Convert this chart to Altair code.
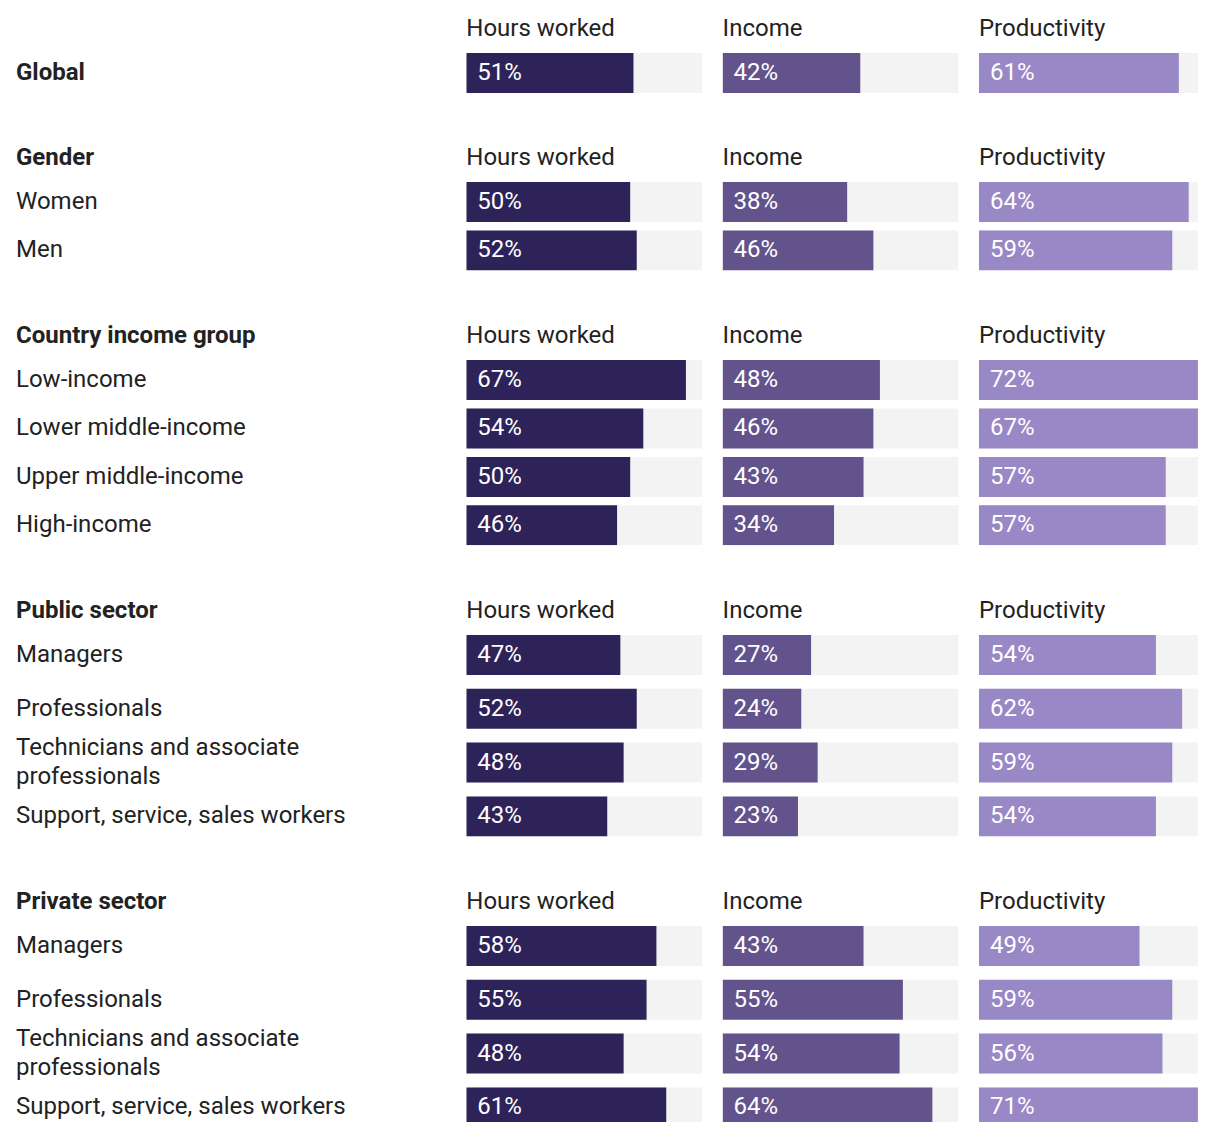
import altair as alt
import pandas as pd

# ---------------- data ----------------
METRICS = ["Hours worked", "Income", "Productivity"]
KEYS = ["hours", "income", "prod"]

global_rows = ["Global"]
global_hours = [51]
global_income = [42]
global_prod = [61]

gender_rows = ["Women", "Men"]
gender_hours = [50, 52]
gender_income = [38, 46]
gender_prod = [64, 59]

country_rows = ["Low-income", "Lower middle-income", "Upper middle-income", "High-income"]
country_hours = [67, 54, 50, 46]
country_income = [48, 46, 43, 34]
country_prod = [72, 67, 57, 57]

occupation_rows = ["Managers", "Professionals",
                   "Technicians and associate\nprofessionals",
                   "Support, service, sales workers"]
public_hours = [47, 52, 48, 43]
public_income = [27, 24, 29, 23]
public_prod = [54, 62, 59, 54]

private_hours = [58, 55, 48, 61]
private_income = [43, 55, 54, 64]
private_prod = [49, 59, 56, 71]

# ---------------- style ----------------
FONT = "Roboto"
TEXT = "#222222"
COLORS = ["#2d2358", "#62538c", "#9888c6"]
TRACK = "#f3f3f3"
XMAX = 72
BAR_W = 236
LAST_W = 219          # last column is cut by the page edge
LABEL_W = 430
COL_GAP = 20.3
BAR_H = 40
LINE_H = 29
SECTION_GAP = 53.0


def title(text, bold=False):
    return alt.TitleParams(text, anchor="start", font=FONT, fontSize=24,
                           fontWeight="bold" if bold else "normal", color=TEXT,
                           baseline="top", offset=11.7, frame="group")


def section(name, rows, hours, income, prod, step, bold_rows=False):
    n = len(rows)
    H = BAR_H + (n - 1) * step
    pad = (step - BAR_H) / step if n > 1 else 0.1
    df = pd.DataFrame({"row": rows, "hours": hours, "income": income, "prod": prod})
    yenc = alt.Y("row:N", sort=rows, axis=None,
                 scale=alt.Scale(type="band", paddingInner=pad, paddingOuter=0))
    lbase = alt.Chart(df).transform_calculate(
        lines="indexof(datum.row, '\\n') >= 0 ? 2 : 1"
    ).encode(y=yenc, x=alt.value(0), text="row:N")
    tstyle = dict(align="left", baseline="middle", font=FONT, fontSize=24,
                  fontWeight="bold" if bold_rows else "normal", color=TEXT,
                  lineBreak="\n", lineHeight=LINE_H)
    one = lbase.transform_filter("datum.lines == 1").mark_text(**tstyle)
    two = lbase.transform_filter("datum.lines == 2").mark_text(dy=-LINE_H / 2, **tstyle)
    label = alt.layer(one, two).properties(width=LABEL_W, height=H)
    if name:
        label = label.properties(title=title(name, bold=True))
    cols = [label]
    for i, (m, k, c) in enumerate(zip(METRICS, KEYS, COLORS)):
        w = LAST_W if i == 2 else BAR_W
        xs = alt.Scale(domain=[0, XMAX], range=[0, BAR_W])
        base = alt.Chart(df).encode(y=yenc)
        track = base.mark_bar(color=TRACK, clip=True).encode(
            x=alt.X(datum=XMAX, type="quantitative", scale=xs, axis=None))
        bar = base.mark_bar(color=c, clip=True).encode(
            x=alt.X(field=k, type="quantitative", scale=xs, axis=None))
        txt = base.transform_calculate(lbl=f"datum.{k} + '%'").mark_text(
            align="left", baseline="middle", dx=11, font=FONT, fontSize=24,
            color="white", clip=True,
        ).encode(x=alt.X(datum=0, type="quantitative", scale=xs, axis=None), text="lbl:N")
        cols.append(alt.layer(track, bar, txt).properties(width=w, height=H, title=title(m)))
    return alt.hconcat(*cols, spacing=COL_GAP, bounds="flush")


sections = [
    section("", global_rows, global_hours, global_income, global_prod, 48.45, bold_rows=True),
    section("Gender", gender_rows, gender_hours, gender_income, gender_prod, 48.4),
    section("Country income group", country_rows, country_hours, country_income, country_prod, 48.45),
    section("Public sector", occupation_rows, public_hours, public_income, public_prod, 53.8),
    section("Private sector", occupation_rows, private_hours, private_income, private_prod, 53.8),
]

chart = alt.vconcat(*sections, spacing=SECTION_GAP).properties(
    padding={"left": 8, "top": 9, "right": 0, "bottom": 0}
).configure_view(stroke=None)

chart.save("out.html", embed_options={"renderer": "svg", "actions": False})
